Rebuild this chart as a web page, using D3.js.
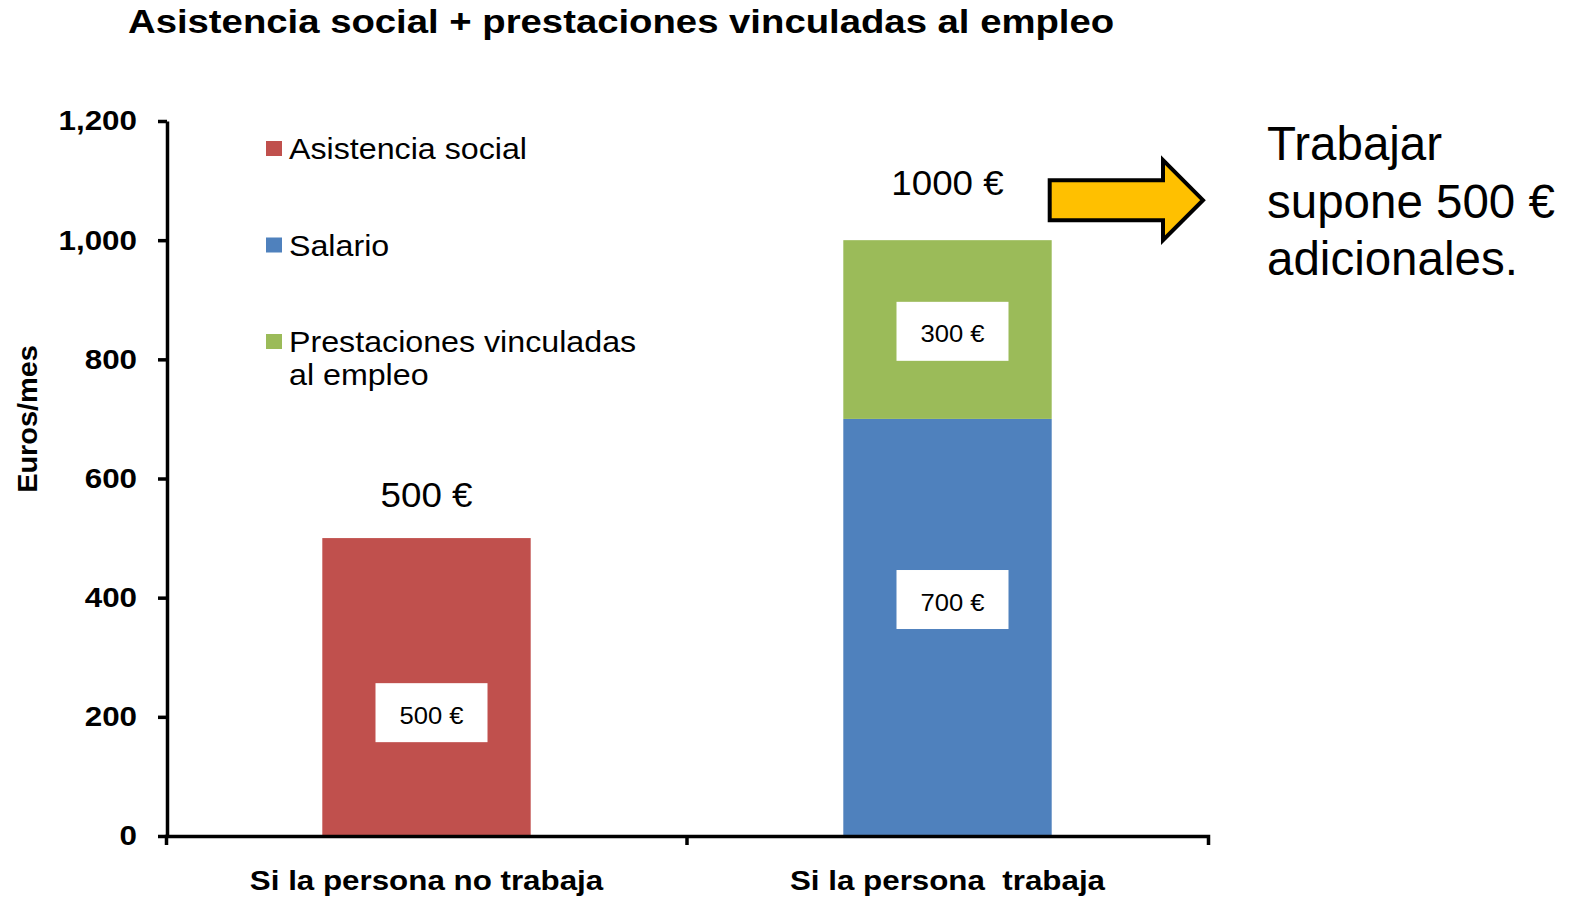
<!DOCTYPE html>
<html>
<head>
<meta charset="utf-8">
<script src="https://cdn.jsdelivr.net/npm/d3@7"></script>
<style>
  body { margin: 0; background: #fff; }
  svg { display: block; font-family: "Liberation Sans", Arial, sans-serif; }
</style>
</head>
<body>
<div id="chart"></div>
<script>
const categories = ["Si la persona no trabaja", "Si la persona  trabaja"];
const seriesNames = ["Asistencia social", "Salario", "Prestaciones vinculadas al empleo"];
const asistencia = [500, 0];
const salario = [0, 700];
const prestaciones = [0, 300];
const yTicks = [0, 200, 400, 600, 800, 1000, 1200];
const noteLines = ["Trabajar", "supone 500 €", "adicionales."];
const legendLines = [["Asistencia social"], ["Salario"], ["Prestaciones vinculadas", "al empleo"]];

const width = 1576, height = 898;
const colors = { "Asistencia social": "#C0504D", "Salario": "#4F81BD", "Prestaciones vinculadas al empleo": "#9BBB59" };
// where the white value box sits inside its segment (0 = bottom, 1 = top)
const boxPos = { "Asistencia social": 0.414, "Salario": 0.567, "Prestaciones vinculadas al empleo": 0.49 };
const totalGap = [31, 45];

const rows = categories.map((c, i) => ({
  cat: c,
  "Asistencia social": asistencia[i],
  "Salario": salario[i],
  "Prestaciones vinculadas al empleo": prestaciones[i]
}));
const stacked = d3.stack().keys(seriesNames)(rows);

const xHalf = d3.scaleBand().domain(categories).range([166, 1208]);
const xBar = d3.scaleBand().domain(categories).range([166, 1208]).paddingInner(0.6).paddingOuter(0.3);
const y = d3.scaleLinear().domain([0, 1200]).range([836, 121]);

const svg = d3.select("#chart").append("svg").attr("width", width).attr("height", height);

function widen(sel, k) {
  sel.each(function () {
    const w = this.getComputedTextLength();
    d3.select(this).attr("textLength", w * k).attr("lengthAdjust", "spacingAndGlyphs");
  });
}

// title
svg.append("text").attr("x", 128).attr("y", 33)
  .attr("font-size", 33).attr("font-weight", "bold")
  .text("Asistencia social + prestaciones vinculadas al empleo")
  .call(widen, 1.16);

// bars
const layer = svg.selectAll(".layer").data(stacked).enter().append("g")
  .attr("class", "layer").attr("fill", d => colors[d.key]);
layer.selectAll("rect").data(d => d.filter(s => s[1] - s[0] > 0)).enter().append("rect")
  .attr("x", d => xBar(d.data.cat))
  .attr("width", xBar.bandwidth())
  .attr("y", d => y(d[1]))
  .attr("height", d => y(d[0]) - y(d[1]));

// value boxes
const segs = [];
stacked.forEach(s => s.forEach(d => { if (d[1] - d[0] > 0) segs.push({ key: s.key, d }); }));
const boxes = svg.selectAll(".vbox").data(segs).enter().append("g").attr("class", "vbox")
  .attr("transform", s => {
    const cx = xBar(s.d.data.cat) + xBar.bandwidth() / 2 + 5;
    const cy = y(s.d[0] + (s.d[1] - s.d[0]) * boxPos[s.key]);
    return `translate(${cx},${cy})`;
  });
boxes.append("rect").attr("x", -56).attr("y", -29.5).attr("width", 112).attr("height", 59).attr("fill", "#fff");
boxes.append("text").attr("text-anchor", "middle").attr("y", 11).attr("font-size", 24)
  .text(s => `${s.d[1] - s.d[0]} €`).call(widen, 1.066);

// totals
svg.selectAll(".total").data(rows).enter().append("text").attr("class", "total")
  .attr("text-anchor", "middle")
  .attr("x", d => xBar(d.cat) + xBar.bandwidth() / 2)
  .attr("y", (d, i) => y(d3.sum(seriesNames, k => d[k])) - totalGap[i])
  .attr("font-size", 35)
  .text(d => `${d3.sum(seriesNames, k => d[k])} €`)
  .call(widen, 1.05);

// axes
const yAxis = svg.append("g").attr("transform", `translate(167,0)`)
  .call(d3.axisLeft(y).tickValues(yTicks).tickSize(9).tickPadding(21).tickSizeOuter(0).tickFormat(d3.format(",")));
const xAxis = svg.append("g").attr("transform", `translate(0,${y(0)})`)
  .call(d3.axisBottom(xHalf).tickSize(0).tickSizeOuter(9));
xAxis.append("line").attr("x1", xHalf(categories[1])).attr("x2", xHalf(categories[1]))
  .attr("y1", 0).attr("y2", 9);
[yAxis, xAxis].forEach(g => {
  g.selectAll("path, line").attr("stroke", "#000").attr("stroke-width", 3.5);
  g.selectAll("text").attr("fill", "#000").attr("font-family", "Liberation Sans, Arial, sans-serif")
    .attr("font-weight", "bold").attr("font-size", 27);
});
yAxis.selectAll("text").attr("font-size", 28).call(widen, 1.12);
xAxis.selectAll("text").attr("y", 54).attr("dy", 0).style("white-space", "pre").call(widen, 1.16);

svg.append("text").attr("transform", "translate(37,419) rotate(-90)")
  .attr("text-anchor", "middle").attr("font-size", 27).attr("font-weight", "bold")
  .text("Euros/mes").call(widen, 1.07);

// legend
const legend = svg.selectAll(".leg").data(seriesNames).enter().append("g").attr("class", "leg")
  .attr("transform", (d, i) => `translate(266,${159 + i * 96.5})`);
legend.append("rect").attr("x", 0).attr("y", -18).attr("width", 16).attr("height", 15).attr("fill", d => colors[d]);
legend.each(function (d, i) {
  legendLines[i].forEach((line, j) => {
    d3.select(this).append("text").attr("x", 23).attr("y", j * 33).attr("font-size", 29)
      .text(line).call(widen, 1.11);
  });
});

// arrow
const ax0 = xBar(categories[1]) + xBar.bandwidth() - 2;
const ax1 = 1203;
const ay = y(1000) - 40;
const headX = ax1 - 40;
svg.append("path")
  .attr("d", `M${ax0},${ay - 20}H${headX}V${ay - 40}L${ax1},${ay}L${headX},${ay + 40}V${ay + 20}H${ax0}Z`)
  .attr("fill", "#FFC000").attr("stroke", "#000").attr("stroke-width", 4).attr("stroke-linejoin", "miter");

// side note
svg.selectAll(".note").data(noteLines).enter().append("text").attr("class", "note")
  .attr("x", 1267).attr("y", (d, i) => 160 + i * 57.5)
  .attr("font-size", 47.5).text(d => d);
</script>
</body>
</html>
